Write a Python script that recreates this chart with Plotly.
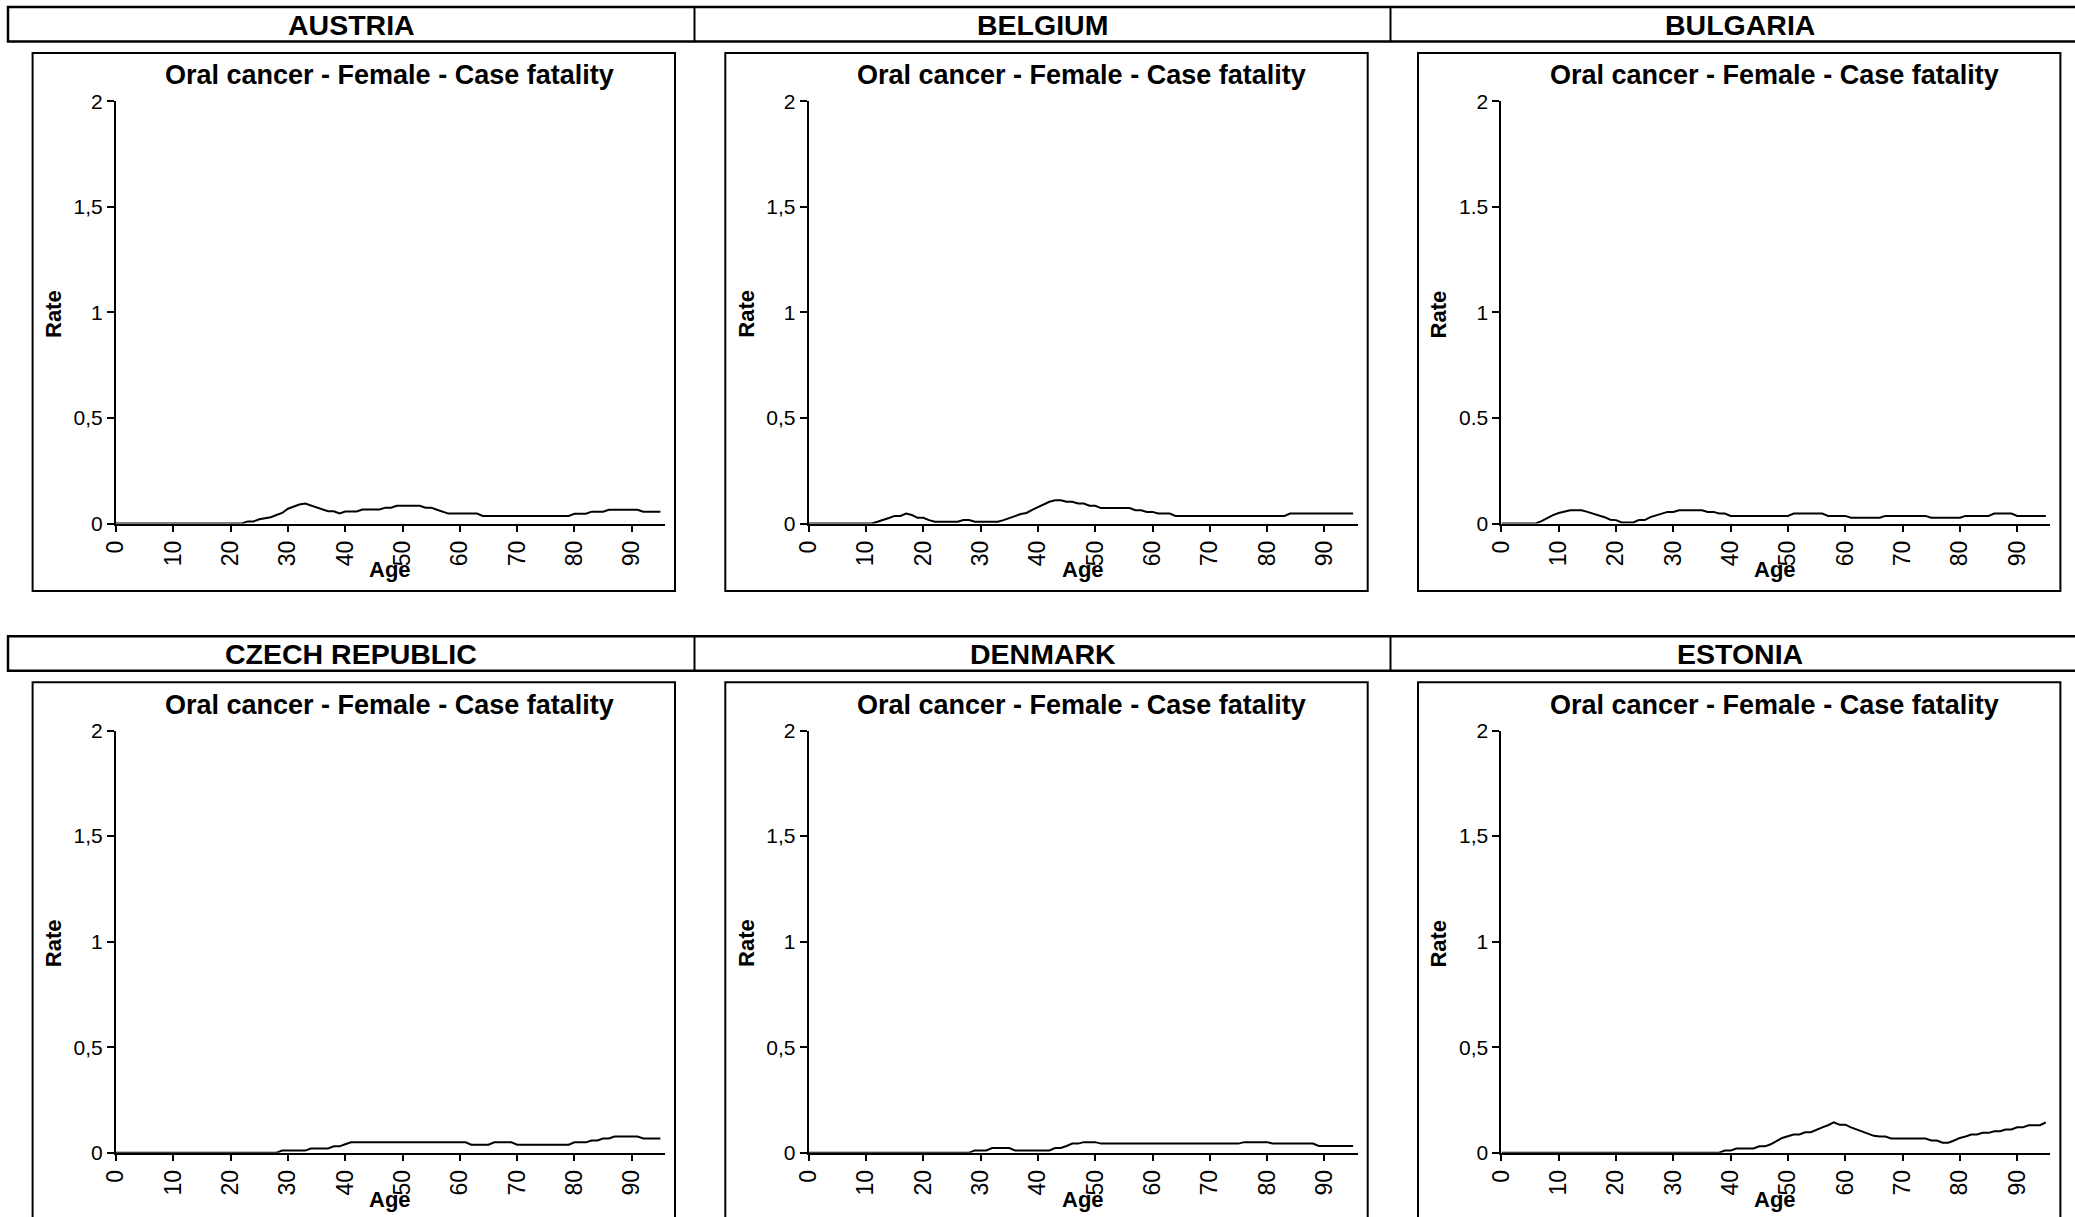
import plotly.graph_objects as go

W, H = 2075, 1217

countries = ["AUSTRIA", "BELGIUM", "BULGARIA", "CZECH REPUBLIC", "DENMARK", "ESTONIA"]
chart_title = "Oral cancer - Female - Case fatality"
ages = list(range(96))
x_tick_vals = [0, 10, 20, 30, 40, 50, 60, 70, 80, 90]
y_tick_vals = [0, 0.5, 1, 1.5, 2]
y_tick_comma = ["0", "0,5", "1", "1,5", "2"]
y_tick_dot = ["0", "0.5", "1", "1.5", "2"]

austria = ([0] * 23 +
           [0.01, 0.01, 0.02, 0.025, 0.03, 0.04, 0.05, 0.07, 0.08, 0.09, 0.095, 0.085,
            0.075, 0.065, 0.058, 0.058, 0.048, 0.057, 0.057, 0.057, 0.066, 0.066, 0.066,
            0.066, 0.075, 0.075, 0.084, 0.084, 0.084, 0.084, 0.084, 0.075, 0.075, 0.065, 0.055] +
           [0.047] * 6 + [0.036] * 16 + [0.046] * 3 + [0.056] * 3 + [0.065] * 6 + [0.056] * 4)

belgium = ([0] * 12 +
           [0.008, 0.016, 0.026, 0.036, 0.036, 0.047, 0.04, 0.027, 0.027, 0.016] +
           [0.008] * 5 + [0.016, 0.016] + [0.008] * 5 +
           [0.016, 0.024, 0.035, 0.045, 0.05, 0.065, 0.079, 0.09, 0.103, 0.11, 0.11,
            0.103, 0.103, 0.095, 0.095, 0.084, 0.084] +
           [0.073] * 6 + [0.063, 0.063, 0.055, 0.055] + [0.047] * 3 + [0.036] * 20 + [0.047] * 12)

bulgaria = ([0] * 7 +
            [0.011, 0.025, 0.04, 0.05, 0.057, 0.063, 0.063, 0.063, 0.055, 0.047, 0.038, 0.03,
             0.018, 0.016, 0.005, 0.005, 0.005, 0.016, 0.016, 0.03, 0.04, 0.047, 0.055, 0.055] +
            [0.063] * 5 + [0.055, 0.055, 0.047, 0.047] + [0.036] * 11 + [0.047] * 6 +
            [0.036] * 4 + [0.027] * 6 + [0.036] * 8 + [0.027] * 6 + [0.036] * 5 +
            [0.047] * 4 + [0.036] * 6)

czech = ([0] * 29 + [0.01] * 5 + [0.02] * 4 + [0.03] * 2 + [0.04] + [0.049] * 21 +
         [0.038] * 4 + [0.049] * 4 + [0.038] * 10 + [0.049] * 3 + [0.058] * 2 +
         [0.067] * 2 + [0.077] * 5 + [0.067] * 4)

denmark = ([0] * 29 + [0.011] * 3 + [0.022] * 4 + [0.011] * 7 + [0.022] * 2 + [0.032] +
           [0.043] * 2 + [0.05] * 3 + [0.043] * 25 + [0.05] * 5 + [0.043] * 8 + [0.032] * 7)

estonia = ([0] * 39 + [0.01, 0.01] + [0.02] * 4 +
           [0.03, 0.03, 0.04, 0.055, 0.07, 0.078, 0.086, 0.086, 0.097, 0.097, 0.11, 0.12,
            0.13, 0.144, 0.133, 0.133, 0.12, 0.11, 0.1, 0.09, 0.08, 0.077, 0.077] +
           [0.067] * 7 +
           [0.058, 0.058, 0.047, 0.047, 0.058, 0.07, 0.077, 0.086, 0.086, 0.094, 0.094,
            0.102, 0.102, 0.11, 0.11, 0.12, 0.12, 0.13, 0.13, 0.13, 0.144])

series = [austria, belgium, bulgaria, czech, denmark, estonia]
y_labels = [y_tick_comma, y_tick_comma, y_tick_dot, y_tick_comma, y_tick_comma, y_tick_comma]

FONT = "Liberation Sans, Arial, sans-serif"

def px(x):
    return x / W

def py(y):
    return 1 - y / H

COL_OFF = 692.7
ROW_OFF = 629.2

fig = go.Figure()
shapes = []
annotations = []

for i, (name, vals) in enumerate(zip(countries, series)):
    r, c = divmod(i, 3)
    dx, dy = c * COL_OFF, r * ROW_OFF
    ax_idx = "" if i == 0 else str(i + 1)
    x0, x1 = 116 + dx, 665 + dx
    y0, y2 = 523.5 + dy, 101.4 + dy
    fig.add_trace(go.Scatter(x=ages, y=vals, mode="lines",
                             line=dict(color="black", width=2),
                             xaxis="x" + ax_idx, yaxis="y" + ax_idx,
                             showlegend=False, hoverinfo="x+y"))
    fig.layout["xaxis" + ax_idx] = dict(
        domain=[px(x0), px(x1)], anchor="y" + ax_idx, range=[0, 95.8], automargin=False,
        tickmode="array", tickvals=x_tick_vals, ticktext=[str(v) for v in x_tick_vals],
        tickangle=-90, ticks="outside", ticklen=6, tickwidth=1.5, tickcolor="black",
        showline=True, linecolor="black", linewidth=2, showgrid=False, zeroline=False,
        tickfont=dict(family=FONT, size=23, color="black"), fixedrange=True)
    fig.layout["yaxis" + ax_idx] = dict(
        domain=[py(y0), py(y2)], anchor="x" + ax_idx, range=[0, 2], automargin=False,
        tickmode="array", tickvals=y_tick_vals, ticktext=y_labels[i],
        ticks="outside", ticklen=7, tickwidth=1.5, tickcolor="black",
        showline=True, linecolor="black", linewidth=2, showgrid=False, zeroline=False,
        tickfont=dict(family=FONT, size=21, color="black"), fixedrange=True)

    # panel border
    shapes.append(dict(type="rect", xref="paper", yref="paper",
                       x0=px(32.6 + dx), x1=px(675 + dx), y0=py(591 + dy), y1=py(53 + dy),
                       line=dict(color="black", width=2), layer="below"))
    # chart title
    annotations.append(dict(text="<b>" + chart_title + "</b>", xref="paper", yref="paper",
                            x=px(389 + dx), y=py(75.5 + dy), xanchor="center", yanchor="middle",
                            showarrow=False, font=dict(family=FONT, size=27, color="black")))
    # axis titles
    annotations.append(dict(text="<b>Rate</b>", xref="paper", yref="paper", textangle=-90,
                            x=px(53 + dx), y=py(314 + dy), xanchor="center", yanchor="middle",
                            showarrow=False, font=dict(family=FONT, size=22, color="black")))
    annotations.append(dict(text="<b>Age</b>", xref="paper", yref="paper",
                            x=px(390 + dx), y=py(570 + dy), xanchor="center", yanchor="middle",
                            showarrow=False, font=dict(family=FONT, size=22, color="black")))
    # header label
    cell_l = [8, 694.5, 1390.5][c]
    cell_r = [694.5, 1390.5, 2090][c]
    annotations.append(dict(text="<b>" + name + "</b>", xref="paper", yref="paper",
                            x=px((cell_l + cell_r) / 2), y=py(25 + dy),
                            xanchor="center", yanchor="middle", showarrow=False,
                            font=dict(family=FONT, size=28.5, color="black")))

# header cell boxes
for r in range(2):
    dy = r * ROW_OFF
    shapes.append(dict(type="rect", xref="paper", yref="paper",
                       x0=px(8), x1=px(2090), y0=py(41.5 + dy), y1=py(7 + dy),
                       line=dict(color="black", width=2.5)))
    for xd in (694.5, 1390.5):
        shapes.append(dict(type="line", xref="paper", yref="paper",
                           x0=px(xd), x1=px(xd), y0=py(41.5 + dy), y1=py(7 + dy),
                           line=dict(color="black", width=2)))

fig.update_layout(width=W, height=H,
                  margin=dict(l=0, r=0, t=0, b=0, pad=0, autoexpand=False),
                  paper_bgcolor="white", plot_bgcolor="white",
                  shapes=shapes, annotations=annotations, showlegend=False,
                  font=dict(family=FONT, color="black"))

fig.write_html("out.html", config={"displayModeBar": False},
               post_script="document.body.style.margin='0';document.body.style.padding='0';"
                           "document.body.style.overflow='hidden';")
